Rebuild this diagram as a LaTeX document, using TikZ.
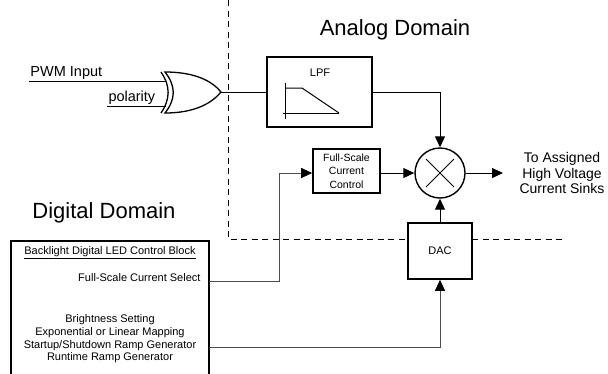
\documentclass[tikz,border=0pt]{standalone}
\usepackage{fontspec}
\setmainfont{Liberation Sans}
\usetikzlibrary{arrows.meta,calc,shapes.misc}
\tikzset{>={Triangle[length=11pt,width=10pt,color=black]}}
\tikzstyle{block}=[rectangle,draw=black,line width=1.6pt,inner sep=0pt,fill=white,font=\fontsize{11}{13}\selectfont]
\tikzstyle{domainlabel}=[font=\fontsize{22}{26}\selectfont]
\tikzstyle{signallabel}=[font=\fontsize{14.5}{17}\selectfont,inner sep=1pt]
\tikzstyle{blocktext}=[font=\fontsize{11}{12.7}\selectfont,inner sep=0pt]
\tikzstyle{sinktext}=[font=\fontsize{14}{15.5}\selectfont,align=center]
\tikzstyle{digwire}=[draw=black!70]

\begin{document}
\begin{tikzpicture}[x=1pt,y=-1pt,line width=1pt]
	\useasboundingbox (0,0) rectangle (608,373);
	\clip (0,0) rectangle (608,373);

	% domains
	\node[domainlabel] (analog) at (395,30) {Analog Domain};
	\node[domainlabel] (digital) at (104,213) {Digital Domain};
	\draw[dash pattern=on 6pt off 4.5pt] (228,0) -- (228,239) -- (563,239);

	% xor gate
	\draw[line width=1.3pt] (165,72) .. controls (195,72) and (212,81) .. (221,92) .. controls (212,103) and (195,113) .. (165,113) .. controls (176,99) and (176,86) .. (165,72) -- cycle;
	\draw[line width=1.3pt] (161,113) .. controls (170.5,99) and (170.5,86) .. (161,72);
	\coordinate (pwm) at (29,81);
	\coordinate (pol) at (107,106);
	\coordinate (xin1) at (165.5,81);
	\coordinate (xin2) at (165.5,106);
	\coordinate (xout) at (221,92);

	% blocks
	\node[block, minimum width=105, minimum height=70] (lpf) at (319.5,92) {};
	\node[blocktext] (lpflabel) at (320,73) {LPF};
	\draw (285,83) -- (285,119);
	\draw (283,113) -- (339,113);
	\draw (285,88) -- (302,88) -- (339,113);

	\node[circle, draw, line width=1.4pt, minimum size=50, inner sep=0pt] (mult) at (440,173) {};
	\node[cross out, draw, minimum size=27, inner sep=0pt] (cross) at (mult) {};

	\node[block, minimum width=67, minimum height=44, align=center, font=\fontsize{10.5}{13.5}\selectfont] (fsc) at (346.5,171) {Full-Scale\\Current\\Control};
	\node[block, minimum width=64, minimum height=56] (dac) at (440,251) {DAC};
	\node[sinktext] (sinks) at (562,173) {To Assigned\\High Voltage\\Current Sinks};
	\coordinate (out) at (503,173);

	\node[block, minimum width=198, minimum height=160, anchor=north] (ctrl) at (110,240) {};
	\node[blocktext] (ctrltitle) at (110,253) {\underline{Backlight Digital LED Control Block}};
	\node[blocktext, anchor=east] (fsselect) at (201,278) {Full-Scale Current Select};
	\node[blocktext, align=center] (bright) at (110,339) {Brightness Setting\\Exponential or Linear Mapping\\Startup/Shutdown Ramp Generator\\Runtime Ramp Generator};
	\coordinate (fsout) at (209,281);
	\coordinate (brout) at (209,347);

	% connections
	\draw (pwm) node[signallabel, above right] {PWM Input} -- (xin1);
	\draw (pol) node[signallabel, above right] {polarity} -- (xin2);
	\draw (xout) -- (lpf.west);
	\draw[->] (lpf.east) -| (mult.north);
	\draw[->] (fsc.east |- mult.west) -- (mult.west);
	\draw[->] (mult.east) -- (out);
	\draw[->] (dac.north) -- (mult.south);
	\draw[digwire, ->] (fsout) -- (279,281) -- (279,173) -- (fsc.west |- mult.west);
	\draw[digwire, ->] (brout) -| (dac.south);
\end{tikzpicture}
\end{document}
